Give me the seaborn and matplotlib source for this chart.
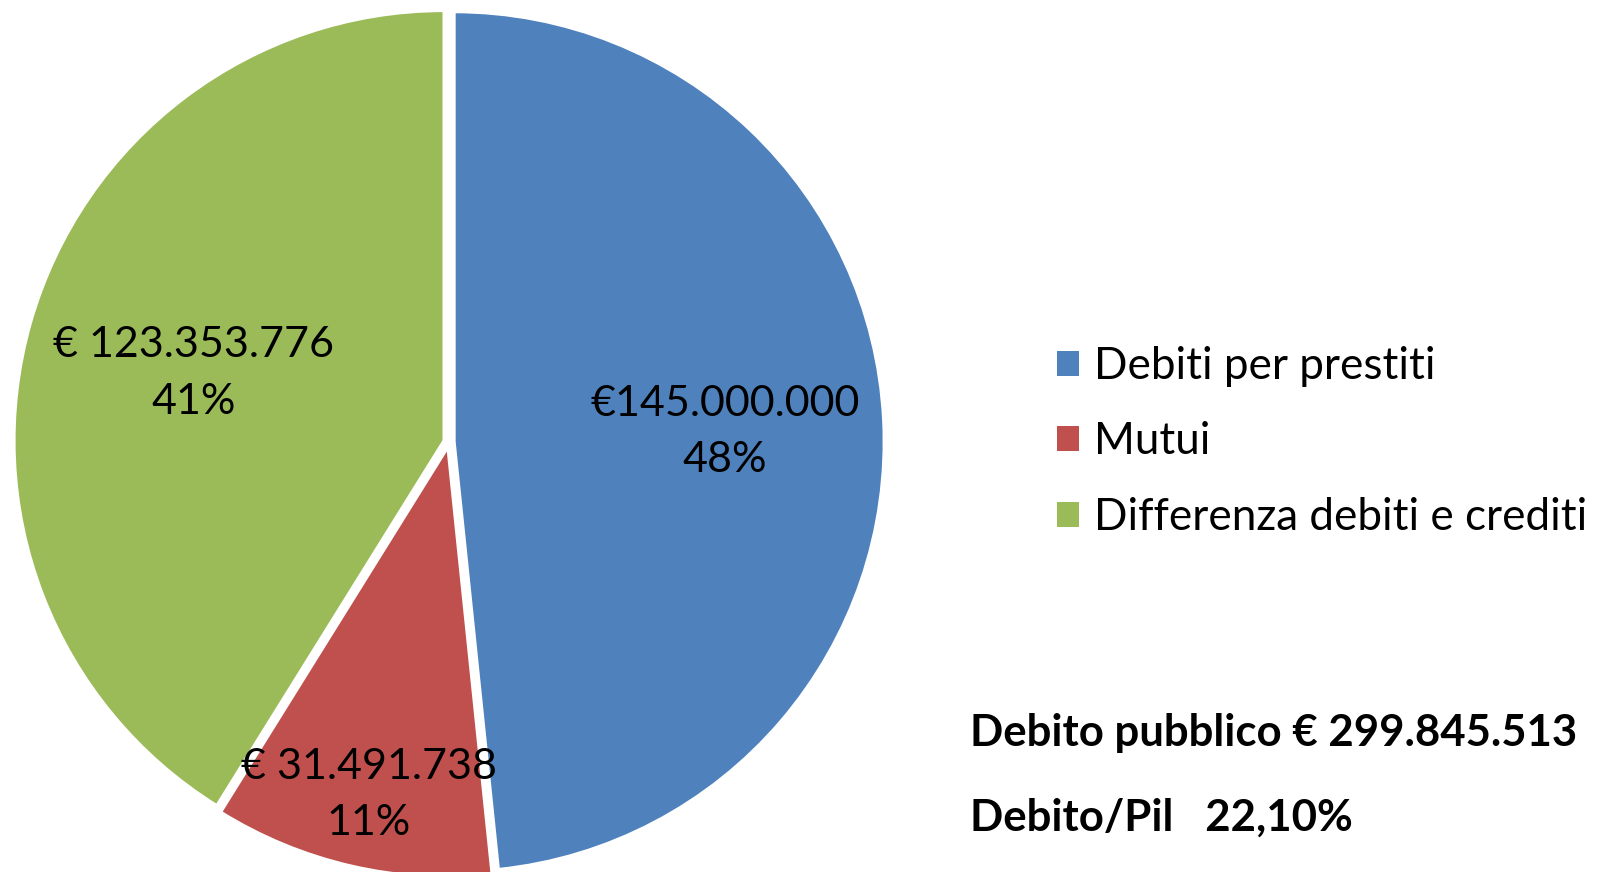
import numpy as np
import matplotlib
matplotlib.use("Agg")
import matplotlib.pyplot as plt
import seaborn as sns

# Dati
categorie = ["Debiti per prestiti", "Mutui", "Differenza debiti e crediti"]
valori = [145000000, 31491738, 123353776]
etichette_valori = ["€145.000.000", "€ 31.491.738", "€ 123.353.776"]
percentuali = ["48%", "11%", "41%"]
colori = ["#4F81BD", "#C0504D", "#9BBB59"]
testo_totale = "Debito pubblico € 299.845.513"
testo_pil = "Debito/Pil   22,10%"

sns.set_theme(style="white", rc={"text.color": "black"})
plt.rcParams["font.family"] = ["Lato", "DejaVu Sans"]

W, H = 1597, 872
fig = plt.figure(figsize=(W / 100, H / 100), dpi=100)

# assi della torta in pixel: centro (449, 442), raggio ~430
cx, cy, r = 449, 872 - 442, 430
half = 440
ax = fig.add_axes([(cx - half) / W, (cy - half) / H, 2 * half / W, 2 * half / H])
lim = half / r

wedges, _ = ax.pie(
    valori,
    colors=sns.color_palette(colori),
    startangle=90,
    counterclock=False,
    explode=[0.012, 0.012, 0.012],
    wedgeprops=dict(edgecolor="white", linewidth=2.2),
)
ax.set_xlim(-lim, lim)
ax.set_ylim(-lim, lim)
ax.set_aspect("equal")
ax.axis("off")

# posizione delle etichette lungo l'angolo medio di ogni spicchio
distanze = [0.63, 0.82, 0.605]
for w, ev, pc, d in zip(wedges, etichette_valori, percentuali, distanze):
    ang = np.deg2rad((w.theta1 + w.theta2) / 2)
    x = w.center[0] + d * np.cos(ang)
    y = w.center[1] + d * np.sin(ang) - 0.01
    ax.text(x, y, ev + "\n" + pc, ha="center", va="center", fontsize=31,
            color="black", linespacing=1.6)

leg = fig.legend(
    wedges, categorie,
    loc="center left",
    bbox_to_anchor=(1057 / W, 1 - 442 / H),
    frameon=False,
    fontsize=31.7,
    handlelength=0.5,
    handleheight=0.5,
    handletextpad=0.34,
    labelspacing=0.78,
    borderpad=0,
    borderaxespad=0,
    labelcolor="black",
)
for h in leg.legend_handles:
    h.set_edgecolor("none")

fig.text(970 / W, 1 - 733 / H, testo_totale, fontsize=31.5, fontweight="bold",
         ha="left", va="center", color="black")
fig.text(970 / W, 1 - 818 / H, testo_pil, fontsize=31.5, fontweight="bold",
         ha="left", va="center", color="black")

fig.savefig("out.png", dpi=100)
